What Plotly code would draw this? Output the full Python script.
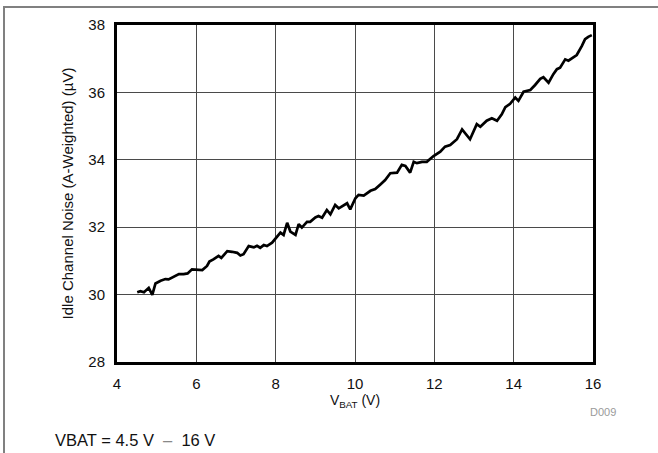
import plotly.graph_objects as go

vbat = [4.51, 4.59, 4.68, 4.80, 4.89, 4.97, 5.10, 5.22, 5.30, 5.43, 5.56, 5.68, 5.78, 5.89,
        6.02, 6.15, 6.27, 6.33, 6.44, 6.56, 6.63, 6.78, 6.90, 7.03, 7.11, 7.19, 7.32, 7.45,
        7.53, 7.61, 7.70, 7.78, 7.91, 8.04, 8.12, 8.20, 8.29, 8.37, 8.50, 8.58, 8.66, 8.79,
        8.87, 9.00, 9.08, 9.17, 9.29, 9.38, 9.50, 9.59, 9.70, 9.80, 9.88, 10.01, 10.09, 10.22,
        10.39, 10.51, 10.64, 10.76, 10.89, 11.06, 11.18, 11.27, 11.39, 11.48, 11.56, 11.69,
        11.81, 11.98, 12.15, 12.27, 12.40, 12.57, 12.70, 12.90, 13.07, 13.16, 13.32, 13.45,
        13.58, 13.70, 13.79, 13.91, 14.04, 14.12, 14.25, 14.42, 14.54, 14.67, 14.75, 14.88,
        15.00, 15.09, 15.17, 15.30, 15.38, 15.51, 15.59, 15.72, 15.80, 15.88, 15.97]
noise_uv = [30.07, 30.10, 30.07, 30.20, 29.99, 30.33, 30.41, 30.46, 30.45, 30.53, 30.61, 30.61,
            30.63, 30.75, 30.75, 30.73, 30.85, 30.98, 31.05, 31.15, 31.09, 31.29, 31.27, 31.24,
            31.16, 31.20, 31.44, 31.40, 31.45, 31.39, 31.47, 31.44, 31.54, 31.72, 31.84, 31.77,
            32.13, 31.87, 31.77, 32.09, 31.99, 32.16, 32.16, 32.29, 32.33, 32.28, 32.51, 32.38,
            32.66, 32.56, 32.64, 32.71, 32.53, 32.86, 32.96, 32.94, 33.08, 33.13, 33.27, 33.40,
            33.60, 33.62, 33.85, 33.82, 33.62, 33.94, 33.90, 33.94, 33.94, 34.11, 34.24, 34.39,
            34.44, 34.61, 34.90, 34.61, 35.06, 34.98, 35.16, 35.23, 35.16, 35.35, 35.56, 35.66,
            35.85, 35.75, 36.02, 36.07, 36.22, 36.40, 36.45, 36.29, 36.54, 36.69, 36.73, 36.98,
            36.94, 37.03, 37.11, 37.38, 37.58, 37.65, 37.70]

x_ticks = [4, 6, 8, 10, 12, 14, 16]
y_ticks = [28, 30, 32, 34, 36, 38]
x_title = "V<sub>BAT</sub> (V)"
y_title = "Idle Channel Noise (A-Weighted) (µV)"
caption = "VBAT = 4.5 V  <span style='color:#888'>–</span>  16 V"
code_label = "D009"

W, H = 658, 453
ML, MR, MT, MB = 117, 65, 25, 91
pw, ph = W - ML - MR, H - MT - MB

def px_x(p):
    return (p - ML) / pw

def px_y(p):
    return (H - MB - p) / ph

font = "Liberation Sans, Arial, sans-serif"

fig = go.Figure()
fig.add_trace(go.Scatter(x=vbat, y=noise_uv, mode="lines",
                         line=dict(color="black", width=2.7), showlegend=False))

axis_common = dict(showline=True, linecolor="black", linewidth=3, mirror=True,
                   showgrid=True, gridcolor="#4a4a4a", gridwidth=1, zeroline=False,
                   ticks="", tickfont=dict(family=font, size=15, color="#111"))

fig.update_xaxes(range=[4, 16], tickvals=x_ticks, ticktext=[str(v) for v in x_ticks],
                 title=dict(text=x_title, font=dict(family=font, size=14, color="#111"), standoff=4),
                 ticklabelstandoff=6, **axis_common)
fig.update_yaxes(range=[28, 38], tickvals=y_ticks, ticktext=[str(v) for v in y_ticks],
                 title=dict(text=y_title, font=dict(family=font, size=15, color="#111"), standoff=12),
                 ticklabelstandoff=6, **axis_common)

shapes = [
    dict(type="line", xref="paper", yref="paper", x0=px_x(4), x1=px_x(W + 5),
         y0=px_y(7), y1=px_y(7), line=dict(color="#808080", width=2)),
    dict(type="line", xref="paper", yref="paper", x0=px_x(4), x1=px_x(4),
         y0=px_y(6), y1=px_y(H + 5), line=dict(color="#808080", width=2)),
]

annotations = [
    dict(text=caption, xref="paper", yref="paper", x=px_x(53), y=px_y(440),
         xanchor="left", yanchor="middle", showarrow=False,
         font=dict(family=font, size=16.5, color="#111")),
    dict(text=code_label, xref="paper", yref="paper", x=px_x(603), y=px_y(412),
         xanchor="center", yanchor="middle", showarrow=False,
         font=dict(family=font, size=11, color="#9a9a9a")),
]

fig.update_layout(width=W, height=H, margin=dict(l=ML, r=MR, t=MT, b=MB),
                  paper_bgcolor="white", plot_bgcolor="white",
                  shapes=shapes, annotations=annotations)

fig.write_html("out.html", config={"displayModeBar": False},
               post_script="document.body.style.margin='0';document.body.style.overflow='hidden';")
